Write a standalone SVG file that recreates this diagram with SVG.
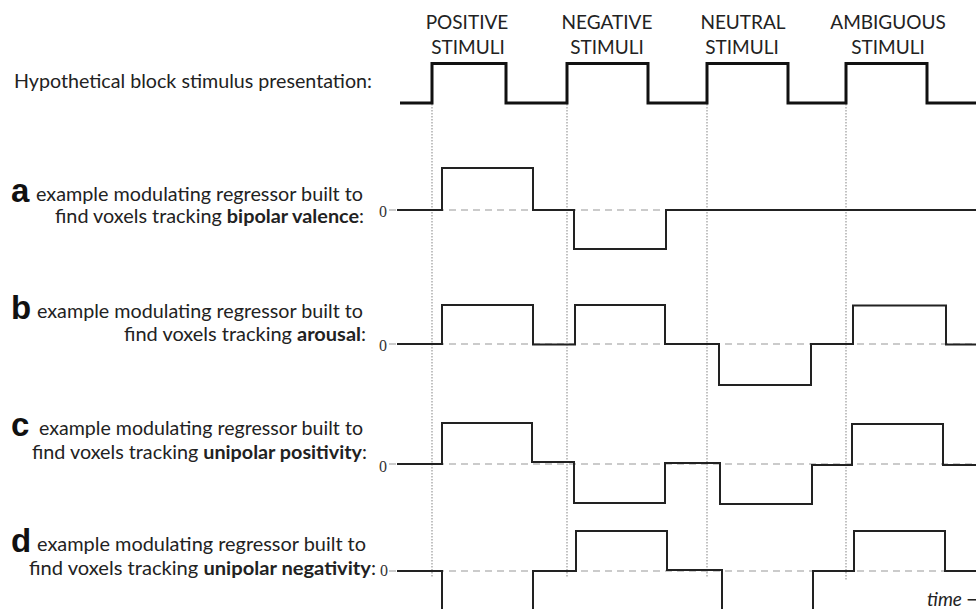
<svg xmlns="http://www.w3.org/2000/svg" width="976" height="609" viewBox="0 0 976 609">
<style>
  .txt{font-family:Lato,"Open Sans","Noto Sans",sans-serif;font-size:19px;fill:#222}
  .b{font-weight:bold}
  .let{font-family:"Liberation Sans",Arial,sans-serif;font-weight:bold;font-size:33px;fill:#111}
  .stim{font-family:Lato,"Open Sans","Noto Sans",sans-serif;font-size:19px;fill:#222;text-anchor:middle}
  .zero{font-family:"Liberation Serif","Times New Roman",serif;font-size:16px;fill:#333;text-anchor:middle}
  .grid{stroke:#999;stroke-width:1.2;stroke-dasharray:1.5 1.5;fill:none}
  .base{stroke:#bbb;stroke-width:1.6;stroke-dasharray:7 5;fill:none}
  .wave{stroke:#222;stroke-width:2;fill:none;stroke-linejoin:miter}
  .stimwave{stroke:#111;stroke-width:3;fill:none}
  .time{font-family:Lato,"Open Sans","Noto Sans",sans-serif;font-size:19px;font-style:italic;fill:#222}
</style>
<rect width="976" height="609" fill="#fff"/>

<g id="stimulus-labels">
  <text class="stim" x="467" y="29">POSITIVE</text>
  <text class="stim" x="468" y="54">STIMULI</text>
  <text class="stim" x="607" y="29">NEGATIVE</text>
  <text class="stim" x="607" y="54">STIMULI</text>
  <text class="stim" x="743" y="29">NEUTRAL</text>
  <text class="stim" x="742" y="54">STIMULI</text>
  <text class="stim" x="888" y="29">AMBIGUOUS</text>
  <text class="stim" x="888" y="54">STIMULI</text>
</g>

<g id="row-labels">
  <text class="txt" x="14" y="88" textLength="358" lengthAdjust="spacingAndGlyphs">Hypothetical block stimulus presentation:</text>

  <text class="let" x="11" y="202">a</text>
  <text class="txt" x="36" y="201" textLength="327" lengthAdjust="spacingAndGlyphs">example modulating regressor built to</text>
  <text class="txt" x="55" y="223" textLength="309" lengthAdjust="spacingAndGlyphs">find voxels tracking <tspan class="b">bipolar valence</tspan>:</text>

  <text class="let" x="11" y="319">b</text>
  <text class="txt" x="37" y="318" textLength="326" lengthAdjust="spacingAndGlyphs">example modulating regressor built to</text>
  <text class="txt" x="124" y="341" textLength="242" lengthAdjust="spacingAndGlyphs">find voxels tracking <tspan class="b">arousal</tspan>:</text>

  <text class="let" x="11" y="436">c</text>
  <text class="txt" x="39" y="435" textLength="324" lengthAdjust="spacingAndGlyphs">example modulating regressor built to</text>
  <text class="txt" x="32" y="459" textLength="335" lengthAdjust="spacingAndGlyphs">find voxels tracking <tspan class="b">unipolar positivity</tspan>:</text>

  <text class="let" x="11" y="552">d</text>
  <text class="txt" x="37" y="551" textLength="329" lengthAdjust="spacingAndGlyphs">example modulating regressor built to</text>
  <text class="txt" x="29" y="575" textLength="347" lengthAdjust="spacingAndGlyphs">find voxels tracking <tspan class="b">unipolar negativity</tspan>:</text>
</g>

<g id="gridlines">
  <line class="grid" x1="432" y1="104" x2="432" y2="578"/>
  <line class="grid" x1="567" y1="104" x2="567" y2="578"/>
  <line class="grid" x1="707" y1="104" x2="707" y2="578"/>
  <line class="grid" x1="846" y1="104" x2="846" y2="580"/>
  <line class="base" x1="389" y1="210" x2="976" y2="210"/>
  <line class="base" x1="389" y1="344" x2="976" y2="344"/>
  <line class="base" x1="389" y1="464" x2="976" y2="464"/>
  <line class="base" x1="389" y1="571" x2="976" y2="571"/>
</g>

<g id="zero-labels">
  <text class="zero" x="383" y="217">0</text>
  <text class="zero" x="383" y="351">0</text>
  <text class="zero" x="383" y="472">0</text>
  <text class="zero" x="384" y="576">0</text>
</g>

<g id="stimulus-wave">
  <path class="stimwave" d="M400,103 H432 V63.5 H506 V103 H567 V63.5 H648 V103 H707 V63.5 H788 V103 H846 V63.5 H927 V103 H976"/>
</g>

<g id="regressor-a">
  <path class="wave" d="M397,210 H442 V168 H533 V210 H574 V249 H666 V210 H976"/>
</g>
<g id="regressor-b">
  <path class="wave" d="M397,344 H442 V305 H533 V344.5 H575 V305 H665 V344 H719 V385 H811 V344 H853 V305.5 H946 V344.5 H976"/>
</g>
<g id="regressor-c">
  <path class="wave" d="M397,464 H442 V423 H532 V462 H574 V503 H665 V463 H720 V504 H812 V465 H852 V424 H943 V465 H976"/>
</g>
<g id="regressor-d">
  <path class="wave" d="M397,571 H442 V612"/>
  <path class="wave" d="M533,612 V571 H576 V531 H667 V570 H722 V612"/>
  <path class="wave" d="M813,612 V571 H854 V531 H945 V571 H976"/>
</g>

<g id="time-label">
  <text class="time" x="927" y="606">time →</text>
</g>
</svg>
